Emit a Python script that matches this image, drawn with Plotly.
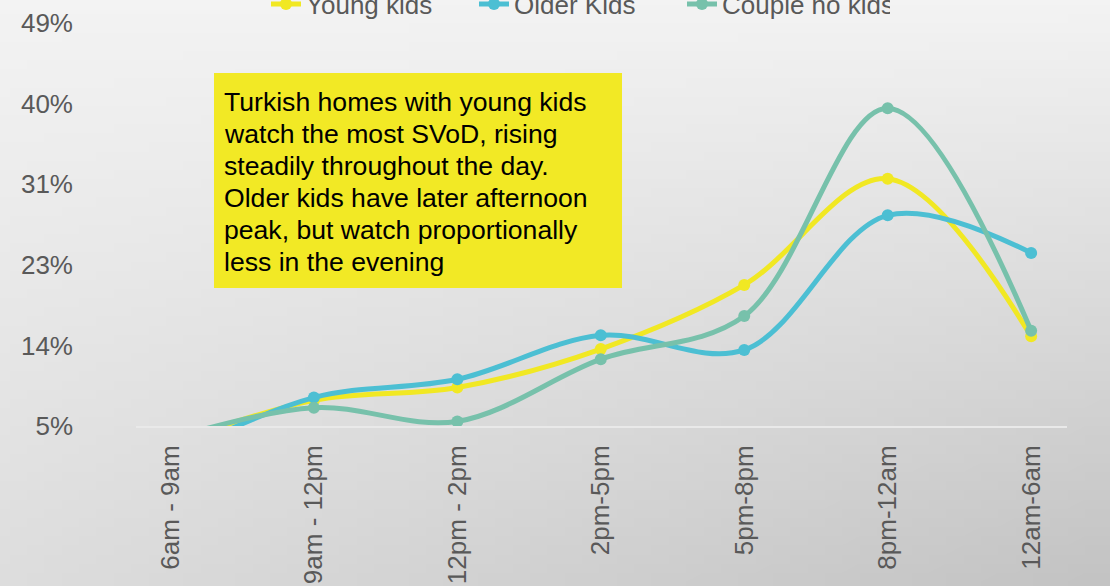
import base64
import struct
import zlib
import plotly.graph_objects as go

# ---------------- data ----------------
categories = ["6am - 9am", "9am - 12pm", "12pm - 2pm", "2pm-5pm", "5pm-8pm", "8pm-12am", "12am-6am"]
young_kids = [0.030, 0.078, 0.092, 0.134, 0.204, 0.320, 0.148]
older_kids = [0.016, 0.081, 0.101, 0.149, 0.133, 0.280, 0.239]
couple_no_kids = [0.036, 0.070, 0.055, 0.123, 0.170, 0.397, 0.154]
series_names = ["Young kids", "Older Kids", "Couple no kids"]
note_lines = [
    "Turkish homes with young kids",
    "watch the most SVoD, rising",
    "steadily throughout the day.",
    "Older kids have later afternoon",
    "peak, but watch proportionally",
    "less in the evening",
]

# ---------------- layout geometry ----------------
W, H = 1110, 586
ML, MR, MT, MB = 136, 43, 23, 160
PW, PH = W - ML - MR, H - MT - MB


def px_x(p):
    return (p - ML) / PW


def px_y(p):
    return 1 - (p - MT) / PH


# ---------------- gradient background as PNG ----------------
def make_png(w, h, fn):
    raw = b"".join(
        b"\x00" + bytes(c for x in range(w) for c in fn(x / (w - 1), y / (h - 1)))
        for y in range(h)
    )

    def chunk(t, d):
        c = struct.pack(">I", len(d)) + t + d
        return c + struct.pack(">I", zlib.crc32(t + d) & 0xFFFFFFFF)

    return (
        b"\x89PNG\r\n\x1a\n"
        + chunk(b"IHDR", struct.pack(">IIBBBBB", w, h, 8, 2, 0, 0, 0))
        + chunk(b"IDAT", zlib.compress(raw))
        + chunk(b"IEND", b"")
    )


def grad(s, t):
    top = 243
    bottom = 221 - 26 * s
    g = int(round(top * (1 - t) + bottom * t))
    return (g, g, g)


png = make_png(64, 64, grad)
bg_src = "data:image/png;base64," + base64.b64encode(png).decode()

# ---------------- figure ----------------
colors = ["#F1E823", "#4CBFD3", "#77C1AB"]
series = [young_kids, older_kids, couple_no_kids]

fig = go.Figure()
for name, vals, col in zip(series_names, series, colors):
    fig.add_trace(
        go.Scatter(
            x=categories,
            y=vals,
            name=name,
            mode="lines+markers",
            line=dict(color=col, width=5, shape="spline", smoothing=1.0),
            marker=dict(color=col, size=12),
        )
    )

fig.add_layout_image(
    dict(
        source=bg_src,
        xref="paper",
        yref="paper",
        x=px_x(0),
        y=px_y(0),
        sizex=W / PW,
        sizey=H / PH,
        xanchor="left",
        yanchor="top",
        sizing="stretch",
        layer="below",
    )
)

# note box
fig.add_shape(
    type="rect",
    xref="paper",
    yref="paper",
    x0=px_x(214),
    x1=px_x(622),
    y0=px_y(288),
    y1=px_y(73),
    fillcolor="#F2E925",
    line=dict(width=0),
    layer="above",
)
for i, line in enumerate(note_lines):
    fig.add_annotation(
        xref="paper",
        yref="paper",
        x=px_x(222),
        y=px_y(102 + 32 * i),
        xanchor="left",
        yanchor="middle",
        text=line,
        showarrow=False,
        font=dict(family="Liberation Sans, Arial, sans-serif", size=26.6, color="#000000"),
    )

fig.update_layout(
    width=W,
    height=H,
    margin=dict(l=ML, r=MR, t=MT, b=MB, autoexpand=False),
    paper_bgcolor="#E4E4E4",
    plot_bgcolor="rgba(0,0,0,0)",
    font=dict(family="Liberation Sans, Arial, sans-serif", size=26, color="#595959"),
    showlegend=True,
    legend=dict(
        orientation="h",
        x=px_x(266),
        xanchor="left",
        y=px_y(4),
        yanchor="middle",
        bgcolor="rgba(0,0,0,0)",
        font=dict(size=26, color="#595959"),
        entrywidth=163,
        entrywidthmode="pixels",
        itemclick=False,
    ),
    xaxis=dict(
        type="category",
        range=[-0.24, 6.25],
        showgrid=False,
        zeroline=False,
        showline=True,
        linecolor="#E9E9E9",
        linewidth=2,
        ticks="",
        tickangle=-90,
        tickfont=dict(size=26, color="#595959"),
        ticklabelstandoff=7,
    ),
    yaxis=dict(
        range=[0.05, 0.49],
        tick0=0.05,
        dtick=0.088,
        tickformat=".0%",
        showgrid=False,
        zeroline=False,
        showline=False,
        ticks="",
        tickfont=dict(size=26, color="#595959"),
        ticklabelstandoff=62,
    ),
)

fig.write_html(
    "out.html",
    config={"displayModeBar": False},
    post_script="document.body.style.margin='0';document.body.style.overflow='hidden';",
)
